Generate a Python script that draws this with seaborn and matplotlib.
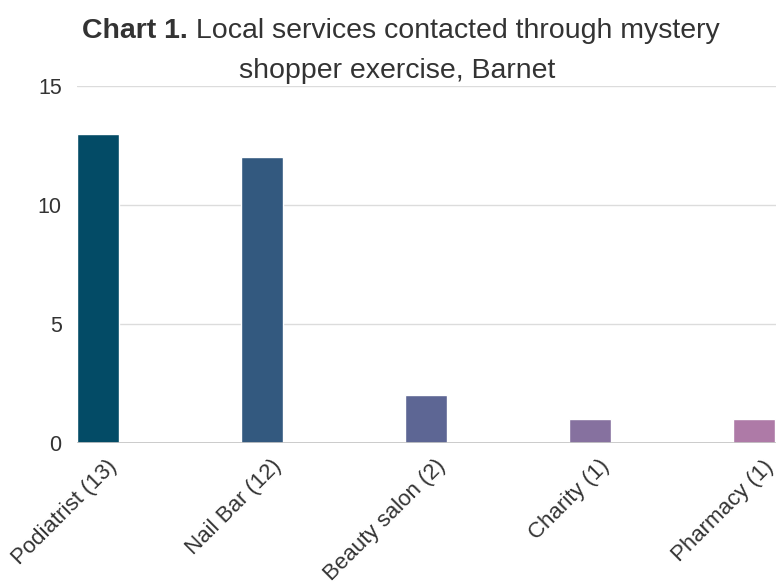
import pandas as pd
import seaborn as sns
import matplotlib.pyplot as plt
import matplotlib.transforms as mtransforms

# chart data
services = ['Podiatrist (13)', 'Nail Bar (12)', 'Beauty salon (2)', 'Charity (1)', 'Pharmacy (1)']
counts = [13, 12, 2, 1, 1]
bar_colors = ['#034b66', '#33597f', '#5d6694', '#86719f', '#ae7aa7']
y_ticks = [0, 5, 10, 15]

df = pd.DataFrame({'service': services, 'count': counts})

sns.set_theme(style='white')
plt.rcParams['font.family'] = ['Liberation Sans', 'DejaVu Sans']

fig = plt.figure(figsize=(7.76, 5.83), dpi=100)
# axes from x=77px to the right edge, y=0 at 443px, y=15 at 86px
ax = fig.add_axes([77 / 776, 140 / 583, 699 / 776, 357 / 583])

sns.barplot(data=df, x='service', y='count', hue='service', palette=bar_colors,
            saturation=1, width=0.256, legend=False, ax=ax, zorder=3)

ax.set_xlim(-0.128, 4.134)
ax.set_ylim(0, 15)
ax.set_yticks(y_ticks)
ax.set_yticklabels([str(t) for t in y_ticks])
ax.grid(axis='y', color='#dcdcdc', linewidth=1, zorder=0)
ax.axhline(0, color='#c4c4c4', linewidth=1.2, zorder=4)
for side in ['top', 'right', 'left', 'bottom']:
    ax.spines[side].set_visible(False)
ax.set_xlabel('')
ax.set_ylabel('')
ax.tick_params(axis='y', length=0, pad=11, labelsize=15.5, labelcolor='#333333')
ax.tick_params(axis='x', length=0, pad=6, labelsize=16, labelcolor='#333333')
# rotated labels, nudged right/down so their ends sit beside the bars
shift = mtransforms.ScaledTranslation(16 / 100, -12 / 100, fig.dpi_scale_trans)
for lab in ax.get_xticklabels():
    lab.set_rotation(45)
    lab.set_ha('right')
    lab.set_va('center')
    lab.set_rotation_mode('anchor')
    lab.set_transform(lab.get_transform() + shift)

# title: bold "Chart 1." followed by regular text, centred
t1 = fig.text(0, 0, 'Chart 1.', fontsize=20.5, fontweight='bold', color='#333333')
t2 = fig.text(0, 0, ' Local services contacted through mystery', fontsize=20.5, color='#333333')
fig.canvas.draw()
r = fig.canvas.get_renderer()
w1 = t1.get_window_extent(r).width / fig.bbox.width
w2 = t2.get_window_extent(r).width / fig.bbox.width
x0 = 401 / 776 - (w1 + w2) / 2
y1 = 1 - 38 / 583
t1.set_position((x0, y1))
t2.set_position((x0 + w1, y1))
fig.text(397 / 776, 1 - 78 / 583, 'shopper exercise, Barnet', fontsize=20.5,
         color='#333333', ha='center')

plt.savefig('out.png', dpi=100)
plt.close()
